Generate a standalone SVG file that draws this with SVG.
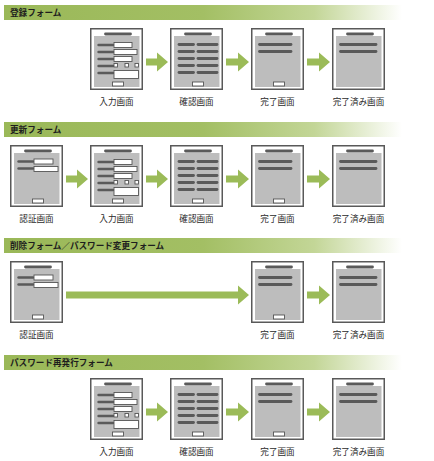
<svg xmlns="http://www.w3.org/2000/svg" xmlns:xlink="http://www.w3.org/1999/xlink" width="434" height="461" viewBox="0 0 434 461">
<style>
.hdr-t{font-family:"Noto Sans CJK JP","Noto Sans",sans-serif;font-size:8.6px;font-weight:bold;fill:#1e1e1e}
.lbl{font-family:"Noto Sans CJK JP","Noto Sans",sans-serif;font-size:8.6px;fill:#2a2a2a;text-anchor:middle}
.frame{fill:#fff;stroke:#595959;stroke-width:1.5}
.screen{fill:#bdbdbd}
.pill{stroke:#5a5a5a;stroke-width:2.8;stroke-linecap:round;fill:none}
.pill-s{stroke:#5a5a5a;stroke-width:2.4;stroke-linecap:round;fill:none}
.fld{fill:#fff;stroke:#555;stroke-width:0.9}
.arrow{fill:#9bbb58}
</style>
<defs>
<linearGradient id="hg" gradientUnits="userSpaceOnUse" x1="4" y1="0" x2="402" y2="0">
<stop offset="0" stop-color="#9ab858"/>
<stop offset="0.5" stop-color="#a3bf64"/>
<stop offset="0.78" stop-color="#c3d697"/>
<stop offset="1" stop-color="#ffffff"/>
</linearGradient>
<g id="base">
<rect class="frame" x="0.75" y="0.75" width="51.5" height="60.5"/>
<rect class="screen" x="4" y="8" width="45.5" height="51"/>
<line class="pill" x1="15.5" y1="6" x2="40.5" y2="6"/>
</g>
<rect id="btn" class="fld" x="22.5" y="54" width="11" height="4"/>
<g id="t-auth">
<use href="#base"/>
<line class="pill-s" x1="8.5" y1="16.5" x2="23" y2="16.5"/>
<line class="pill-s" x1="8.5" y1="23.5" x2="23" y2="23.5"/>
<rect class="fld" x="24" y="14" width="19" height="5"/>
<rect class="fld" x="24" y="21.5" width="24" height="5"/>
<use href="#btn"/>
</g>
<g id="t-input">
<use href="#base"/>
<line class="pill-s" x1="8.5" y1="17" x2="23" y2="17"/>
<line class="pill-s" x1="8.5" y1="24" x2="23" y2="24"/>
<line class="pill-s" x1="8.5" y1="31" x2="23" y2="31"/>
<line class="pill-s" x1="8.5" y1="38" x2="23" y2="38"/>
<line class="pill-s" x1="8.5" y1="45" x2="23" y2="45"/>
<rect class="fld" x="24" y="14.5" width="18" height="5"/>
<rect class="fld" x="24" y="21.5" width="23" height="5"/>
<rect class="fld" x="24" y="28.5" width="18" height="5"/>
<rect class="fld" x="24" y="35.5" width="3.5" height="3.5"/>
<rect class="fld" x="35" y="35.5" width="3.5" height="3.5"/>
<rect class="fld" x="45" y="35.5" width="3.5" height="3.5"/>
<rect class="fld" x="24" y="42.5" width="24.5" height="8"/>
<use href="#btn"/>
</g>
<g id="t-confirm">
<use href="#base"/>
<line class="pill" x1="9" y1="16.5" x2="23.5" y2="16.5"/>
<line class="pill" x1="9" y1="23.5" x2="23.5" y2="23.5"/>
<line class="pill" x1="9" y1="30.5" x2="23.5" y2="30.5"/>
<line class="pill" x1="9" y1="37.5" x2="23.5" y2="37.5"/>
<line class="pill" x1="9" y1="44.5" x2="23.5" y2="44.5"/>
<line class="pill" x1="28" y1="16.5" x2="47" y2="16.5"/>
<line class="pill" x1="28" y1="23.5" x2="47" y2="23.5"/>
<line class="pill" x1="28" y1="30.5" x2="47" y2="30.5"/>
<line class="pill" x1="28" y1="37.5" x2="47" y2="37.5"/>
<line class="pill" x1="28" y1="44.5" x2="47" y2="44.5"/>
<use href="#btn"/>
</g>
<g id="t-done">
<use href="#base"/>
<line class="pill" x1="8.5" y1="16.5" x2="40" y2="16.5"/>
<line class="pill" x1="8.5" y1="23.5" x2="40" y2="23.5"/>
<use href="#btn"/>
</g>
<g id="t-already">
<use href="#base"/>
<line class="pill" x1="8.5" y1="16.5" x2="44" y2="16.5"/>
<line class="pill" x1="8.5" y1="23.5" x2="44" y2="23.5"/>
</g>
</defs>
<rect width="434" height="461" fill="#fff"/>

<g id="headers">
<g id="h1"><rect x="4" y="5" width="398" height="15" fill="url(#hg)"/><text class="hdr-t" x="10" y="16">登録フォーム</text></g>
<g id="h2"><rect x="4" y="122" width="398" height="15" fill="url(#hg)"/><text class="hdr-t" x="10" y="133">更新フォーム</text></g>
<g id="h3"><rect x="4" y="238" width="398" height="15" fill="url(#hg)"/><text class="hdr-t" x="10" y="249">削除フォーム／パスワード変更フォーム</text></g>
<g id="h4"><rect x="4" y="355" width="398" height="15" fill="url(#hg)"/><text class="hdr-t" x="10" y="366">パスワード再発行フォーム</text></g>
</g>

<g id="connectors">
<path class="arrow" d="M146,58.5H157V52.5L168,62L157,71.5V65.5H146Z"/>
<path class="arrow" d="M226,58.5H238V52.5L249,62L238,71.5V65.5H226Z"/>
<path class="arrow" d="M307,58.5H319V52.5L330,62L319,71.5V65.5H307Z"/>

<path class="arrow" d="M66,175.5H77V169.5L88,179L77,188.5V182.5H66Z"/>
<path class="arrow" d="M146,175.5H157V169.5L168,179L157,188.5V182.5H146Z"/>
<path class="arrow" d="M226,175.5H238V169.5L249,179L238,188.5V182.5H226Z"/>
<path class="arrow" d="M307,175.5H319V169.5L330,179L319,188.5V182.5H307Z"/>

<path class="arrow" d="M66,291.5H238V285.5L249,295L238,304.5V298.5H66Z"/>
<path class="arrow" d="M307,291.5H319V285.5L330,295L319,304.5V298.5H307Z"/>

<path class="arrow" d="M146,408.5H157V402.5L168,412L157,421.5V415.5H146Z"/>
<path class="arrow" d="M226,408.5H238V402.5L249,412L238,421.5V415.5H226Z"/>
<path class="arrow" d="M307,408.5H319V402.5L330,412L319,421.5V415.5H307Z"/>
</g>

<g id="s1-input"><use href="#t-input" x="90" y="28"/><text class="lbl" x="116.5" y="105">入力画面</text></g>
<g id="s1-confirm"><use href="#t-confirm" x="170" y="28"/><text class="lbl" x="196.5" y="105">確認画面</text></g>
<g id="s1-done"><use href="#t-done" x="251" y="28"/><text class="lbl" x="277.5" y="105">完了画面</text></g>
<g id="s1-already"><use href="#t-already" x="332" y="28"/><text class="lbl" x="358.5" y="105">完了済み画面</text></g>

<g id="s2-auth"><use href="#t-auth" x="10" y="145"/><text class="lbl" x="36.5" y="222">認証画面</text></g>
<g id="s2-input"><use href="#t-input" x="90" y="145"/><text class="lbl" x="116.5" y="222">入力画面</text></g>
<g id="s2-confirm"><use href="#t-confirm" x="170" y="145"/><text class="lbl" x="196.5" y="222">確認画面</text></g>
<g id="s2-done"><use href="#t-done" x="251" y="145"/><text class="lbl" x="277.5" y="222">完了画面</text></g>
<g id="s2-already"><use href="#t-already" x="332" y="145"/><text class="lbl" x="358.5" y="222">完了済み画面</text></g>

<g id="s3-auth"><use href="#t-auth" x="10" y="261"/><text class="lbl" x="36.5" y="338">認証画面</text></g>
<g id="s3-done"><use href="#t-done" x="251" y="261"/><text class="lbl" x="277.5" y="338">完了画面</text></g>
<g id="s3-already"><use href="#t-already" x="332" y="261"/><text class="lbl" x="358.5" y="338">完了済み画面</text></g>

<g id="s4-input"><use href="#t-input" x="90" y="378"/><text class="lbl" x="116.5" y="455">入力画面</text></g>
<g id="s4-confirm"><use href="#t-confirm" x="170" y="378"/><text class="lbl" x="196.5" y="455">確認画面</text></g>
<g id="s4-done"><use href="#t-done" x="251" y="378"/><text class="lbl" x="277.5" y="455">完了画面</text></g>
<g id="s4-already"><use href="#t-already" x="332" y="378"/><text class="lbl" x="358.5" y="455">完了済み画面</text></g>
</svg>
